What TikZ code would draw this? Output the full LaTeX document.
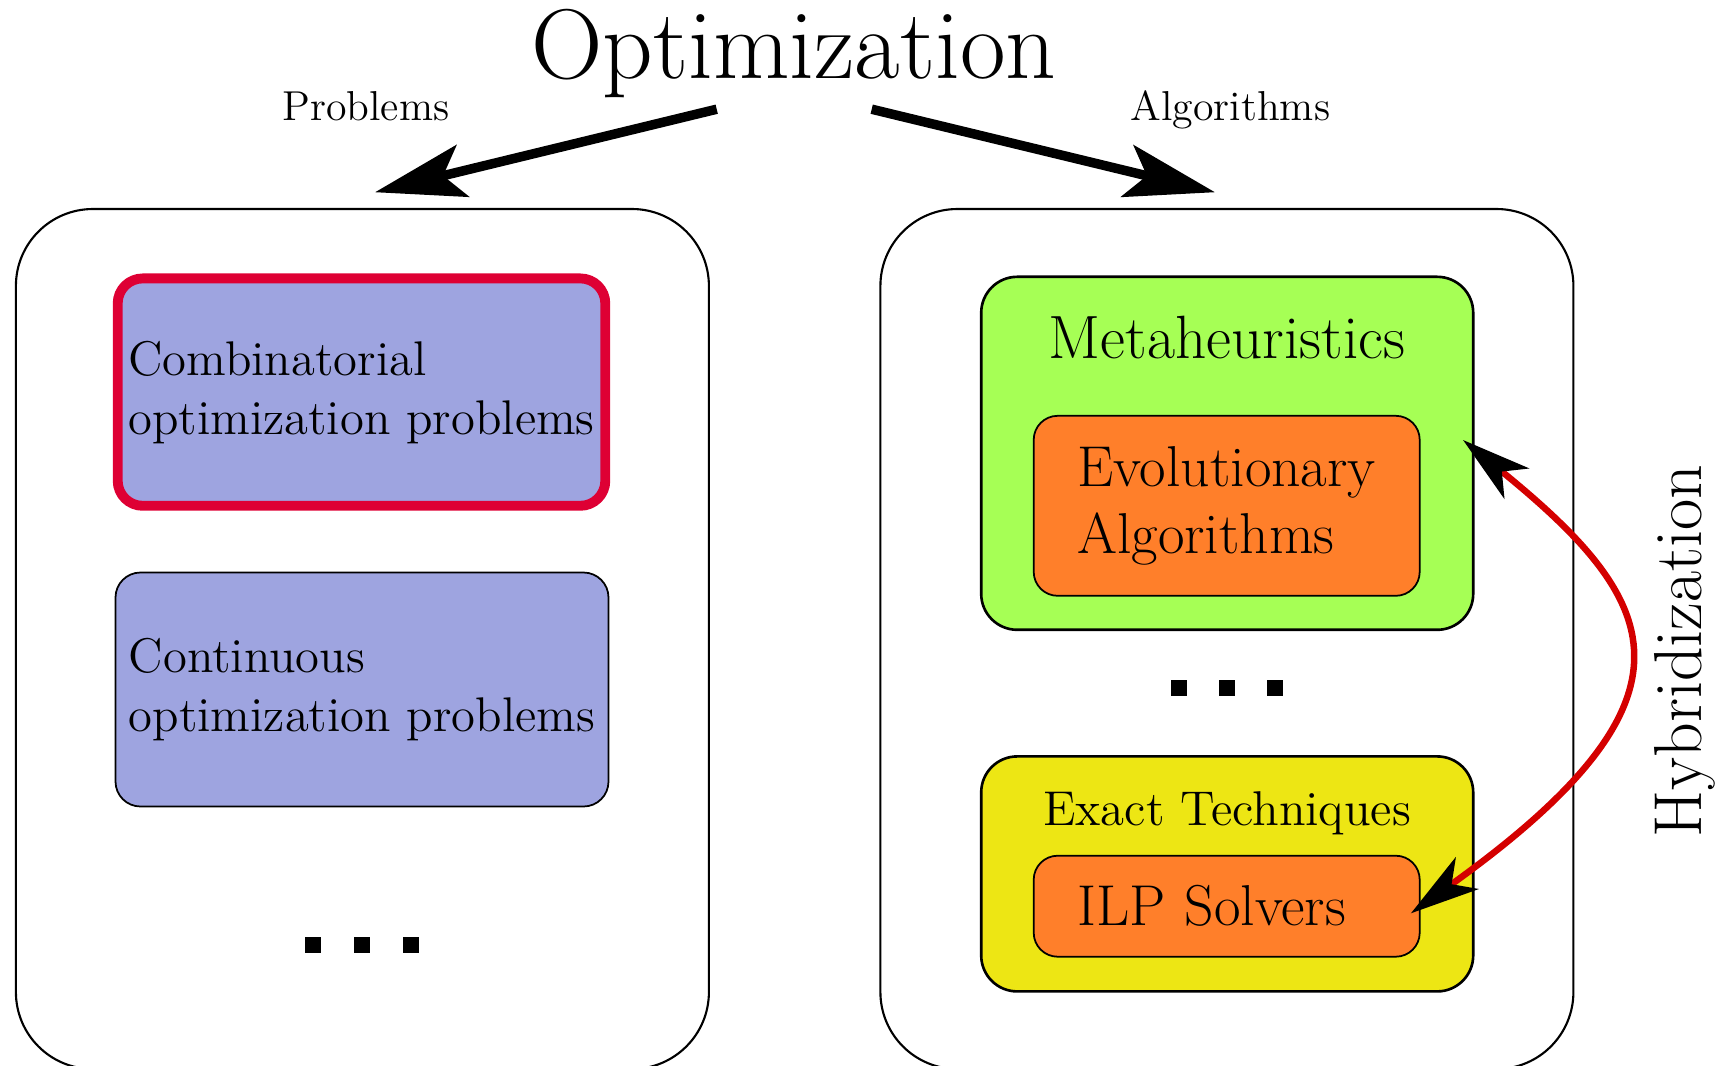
\documentclass[tikz,border=0pt]{standalone}
\usepackage{xcolor}
\usepackage{tikz}
\usetikzlibrary{arrows.meta,positioning}
\definecolor{probblue}{HTML}{9EA4E0}
\definecolor{hotred}{HTML}{DE0034}
\definecolor{metagreen}{HTML}{A6FF55}
\definecolor{exactyellow}{HTML}{EDE614}
\definecolor{evoorange}{HTML}{FF7F2A}
\definecolor{hybridred}{HTML}{D40000}

\begin{document}
\begin{tikzpicture}[
        outerbox/.style={
          draw,
          line width=0.6pt,
          rounded corners=0.77cm,
          minimum width=6.93cm,
          minimum height=8.6cm
        },
        probbox/.style={
          draw,
          fill=probblue,
          line width=0.5pt,
          rounded corners=0.25cm,
          align=left,
          inner xsep=0.05cm,
          font=\fontsize{13.85}{16.8}\selectfont
        },
        algbox/.style={draw, line width=0.75pt, rounded corners=0.36cm, minimum width=4.92cm},
        subbox/.style={
          draw,
          fill=evoorange,
          line width=0.5pt,
          rounded corners=0.24cm,
          align=left,
          text width=2.99cm,
          inner xsep=0.435cm,
          inner ysep=0pt,
          minimum width=3.86cm,
          font=\fontsize{16.4}{19.2}\selectfont
        },
        dotsq/.style={fill=black, minimum size=0.16cm, inner sep=0pt},
        bigarrow/.style={-{Stealth[length=9mm,width=5.3mm,inset=2mm]}, line width=0.095cm},
        hybarrow/.style={{Stealth[black,length=6.9mm,width=3.9mm,inset=1.9mm]}-{Stealth[black,length=6.9mm,width=3.9mm,inset=1.9mm]}, draw=hybridred, line width=0.065cm}
      ]
        \useasboundingbox (0,0) rectangle (17.15,-10.65);
        \clip (0,0) rectangle (17.15,-10.65);

        \node[font=\fontsize{28.2}{33}\selectfont, anchor=base] (title) at (7.94,-0.78) {Optimization};
        \node[font=\fontsize{11.9}{14.3}\selectfont, anchor=base] (problabel) at (3.66,-1.20) {Problems};
        \node[font=\fontsize{11.9}{14.3}\selectfont, anchor=base] (alglabel) at (12.305,-1.20) {Algorithms};

        \node[outerbox] (probs) at (3.624,-6.39) {};
        \node[outerbox] (algs) at (12.269,-6.39) {};

        % problem side
        \node[probbox, draw=hotred, line width=2.8pt, minimum width=4.876cm, minimum height=2.274cm] (comb) at (3.615,-3.921) {Combinatorial\\optimization problems};
        \node[probbox, minimum width=4.93cm, minimum height=2.34cm] (cont) at (3.62,-6.895) {Continuous\\optimization problems};
        \foreach \i/\x in {1/3.13,2/3.62,3/4.11}
          \node[dotsq] (pdot\i) at (\x,-9.45) {};

        % algorithm side
        \node[algbox, fill=metagreen, minimum height=3.53cm] (meta) at (12.272,-4.533) {};
        \node[font=\fontsize{17.4}{21}\selectfont, anchor=base] (metalabel) at (12.27,-3.583) {Metaheuristics};
        \node[subbox, minimum height=1.80cm] (evo) at (12.267,-5.058) {Evolutionary\\Algorithms};
        \foreach \i/\x in {1/11.79,2/12.27,3/12.75}
          \node[dotsq] (adot\i) at (\x,-6.88) {};
        \node[algbox, fill=exactyellow, minimum height=2.35cm] (exact) at (12.272,-8.739) {};
        \node[font=\fontsize{13.9}{16.7}\selectfont, anchor=base] (exactlabel) at (12.27,-8.25) {Exact Techniques};
        \node[subbox, minimum height=1.01cm] (ilp) at (12.267,-9.062) {ILP Solvers};

        \coordinate (pstart) at (7.167,-1.092);
        \coordinate (astart) at (8.717,-1.092);
        \draw[bigarrow] (pstart) -- ([xshift=0.126cm,yshift=0.157cm]probs.north);
        \draw[bigarrow] (astart) -- ([xshift=-0.119cm,yshift=0.157cm]algs.north);

        \coordinate (hybtop) at ([xshift=-0.115cm,yshift=0.133cm]meta.east);
        \coordinate (hybbot) at ([xshift=-0.097cm,yshift=-0.071cm]ilp.east);
        \draw[hybarrow] (hybbot) .. controls (17.15,-6.96) and (16.60,-6.00) .. (hybtop);
        \node[rotate=90, anchor=base, font=\fontsize{19.3}{23}\selectfont] (hyblabel) at (17.017,-6.51) {Hybridization};
      \end{tikzpicture}
\end{document}
